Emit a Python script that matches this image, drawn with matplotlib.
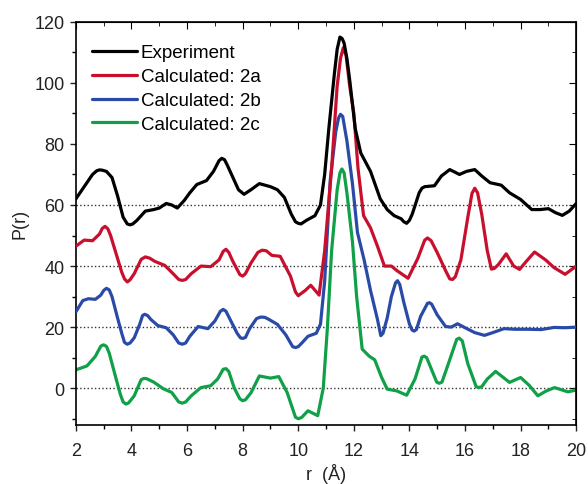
import matplotlib.pyplot as plt

plt.rcParams['font.family'] = ['Liberation Sans', 'DejaVu Sans']

# digitised P(r) curves, r in Angstrom
r_exp = [2.0, 2.3, 2.6, 2.75, 2.85, 2.95, 3.1, 3.3, 3.5, 3.7, 3.85, 3.95, 4.05, 4.2, 4.5,
         4.8, 5.0, 5.25, 5.45, 5.65, 5.9, 6.1, 6.35, 6.7, 6.95, 7.15, 7.25, 7.35, 7.45,
         7.6, 7.85, 8.05, 8.3, 8.6, 9.0, 9.25, 9.5, 9.75, 9.9, 10.0, 10.1, 10.3, 10.6,
         10.8, 10.95, 11.1, 11.3, 11.4, 11.5, 11.58, 11.65, 11.75, 11.85, 12.05, 12.25,
         12.6, 12.95, 13.2, 13.45, 13.7, 13.8, 13.9, 14.0, 14.1, 14.35, 14.45, 14.55,
         14.9, 15.15, 15.45, 15.8, 16.05, 16.35, 16.6, 16.9, 17.3, 17.6, 18.0, 18.4,
         18.7, 19.0, 19.25, 19.5, 19.75, 20.0]
p_exp = [62, 66, 70, 71.2, 71.5, 71.4, 71, 69, 63, 56, 53.8, 53.5, 53.8, 55, 58,
         58.5, 59, 60.5, 60, 59, 61.5, 64, 66.7, 68, 71, 74.5, 75.3, 74.8, 73,
         70, 65, 63.5, 65, 67, 66, 65, 62.5, 57, 54.5, 54, 53.8, 55, 56.5,
         60, 70, 85, 103, 111, 115, 114.5, 113, 108, 101, 85, 77,
         71, 62, 58.5, 56.5, 55.5, 54.5, 54, 55, 57, 64, 65.5, 66,
         66.3, 69.5, 71.6, 70, 71, 71.6, 69.5, 67.3, 66.5, 64, 61.8, 58.5,
         58.5, 58.8, 57.5, 56.6, 58, 60.5]

r_2a = [2.0, 2.3, 2.6, 2.85, 2.95, 3.05, 3.15, 3.25, 3.45, 3.65, 3.75, 3.85, 3.95, 4.1,
        4.35, 4.5, 4.65, 4.85, 5.2, 5.5, 5.7, 5.83, 5.95, 6.15, 6.5, 6.85, 7.15, 7.3,
        7.4, 7.5, 7.65, 7.9, 8.0, 8.1, 8.3, 8.55, 8.7, 8.85, 9.05, 9.35, 9.72, 9.9,
        10.0, 10.25, 10.45, 10.75, 10.95, 11.2, 11.4, 11.52, 11.62, 11.72, 11.85, 12.0,
        12.15, 12.35, 12.6, 12.85, 13.1, 13.35, 13.55, 13.95, 14.3, 14.55, 14.65, 14.78,
        15.0, 15.3, 15.45, 15.55, 15.65, 15.85, 16.1, 16.25, 16.35, 16.45, 16.6, 16.8,
        16.95, 17.05, 17.2, 17.48, 17.75, 17.96, 18.2, 18.5, 18.9, 19.2, 19.6, 20.0]
p_2a = [46.5, 48.5, 48.3, 50.5, 52.3, 53, 52.2, 50, 44, 38, 35.8, 34.8, 35.5, 37.5,
        42.2, 43, 42.6, 41.5, 40.2, 37.5, 35.6, 35.3, 35.6, 37.5, 40, 39.8, 42, 44.8,
        45.5, 44.5, 41.5, 37.2, 36.7, 37.5, 41, 44.5, 45.2, 45, 43.5, 43.2, 36.7, 31.5,
        30.3, 32, 33.7, 30.5, 45, 72, 99, 108, 111.5, 109, 99, 90,
        72, 56.5, 52.5, 46.5, 40, 40, 38.5, 36, 42.5, 48.5, 49.2, 48.3,
        44.4, 38.5, 35.8, 35.6, 36.5, 42, 56, 63.8, 65.5, 64, 57, 45,
        39, 39.2, 40.5, 44, 40, 38.9, 41.5, 44.6, 42, 39.5, 37.3, 40]

r_2b = [2.0, 2.25, 2.45, 2.7, 2.9, 3.0, 3.1, 3.2, 3.3, 3.5, 3.65, 3.75, 3.85, 3.95,
        4.1, 4.3, 4.4, 4.48, 4.58, 4.7, 4.95, 5.25, 5.5, 5.7, 5.83, 5.95, 6.1, 6.4,
        6.75, 7.0, 7.2, 7.3, 7.4, 7.55, 7.8, 7.92, 8.0, 8.1, 8.25, 8.5, 8.65, 8.8,
        8.95, 9.25, 9.55, 9.8, 9.9, 10.0, 10.15, 10.35, 10.65, 10.8, 10.95, 11.15,
        11.35, 11.45, 11.52, 11.6, 11.75, 11.95, 12.13, 12.37, 12.6, 12.85, 12.97, 13.05,
        13.2, 13.35, 13.5, 13.57, 13.65, 13.8, 14.0, 14.1, 14.17, 14.25, 14.4, 14.65,
        14.72, 14.8, 15.0, 15.3, 15.5, 15.73, 16.0, 16.35, 16.7, 17.0, 17.4, 17.8,
        18.26, 18.74, 19.2, 19.6, 20.0]
p_2b = [25, 28.7, 29.3, 29.1, 30.5, 32, 32.7, 32.2, 30, 23, 18, 15, 14.4, 14.8,
        16.5, 21, 23.8, 24.2, 23.8, 22.5, 20.5, 19.8, 17.5, 14.8, 14.4, 14.8, 17, 20.2,
        19.5, 22, 25.2, 25.8, 25.2, 22.5, 18, 16.5, 16.3, 16.6, 19.5, 22.8, 23.3, 23.2,
        22.5, 20.9, 17.5, 13.6, 13.3, 13.6, 15, 17, 18, 21, 35, 68,
        84, 88.5, 89.7, 89, 81, 67, 51, 42, 32, 22.5, 17.2, 18,
        23, 30, 34.5, 35.2, 34, 28, 21, 19, 18.7, 19.2, 23.5, 27.8,
        28, 27.5, 24, 20.2, 20, 21.1, 19.8, 18.2, 17.3, 18.2, 19.5, 19.3,
        19.3, 19.2, 19.9, 19.8, 20]

r_2c = [2.0, 2.4, 2.7, 2.9, 3.0, 3.1, 3.2, 3.45, 3.6, 3.7, 3.8, 3.9, 4.1, 4.35,
        4.45, 4.55, 4.8, 5.15, 5.45, 5.7, 5.83, 5.95, 6.15, 6.5, 6.85, 7.1, 7.3, 7.4,
        7.5, 7.7, 7.9, 8.0, 8.1, 8.3, 8.6, 9.0, 9.3, 9.6, 9.9, 10.0, 10.12, 10.35,
        10.7, 10.9, 11.05, 11.2, 11.4, 11.5, 11.57, 11.65, 11.75, 11.95, 12.1, 12.3,
        12.55, 12.75, 13.0, 13.2, 13.55, 13.9, 14.2, 14.45, 14.53, 14.62, 14.8, 14.98,
        15.07, 15.17, 15.4, 15.7, 15.79, 15.9, 16.1, 16.4, 16.5, 16.6, 16.8, 17.1,
        17.6, 18.0, 18.3, 18.62, 18.9, 19.22, 19.7, 20.0]
p_2c = [6, 7.3, 10.4, 13.8, 14.2, 13.7, 11.5, 3, -2, -4.5, -5.2, -4.8, -2.5, 2.8,
        3.2, 3.1, 2, -0.2, -1.4, -4.5, -4.9, -4.5, -2.5, 0.2, 0.8, 3, 6.2, 6.4,
        5.5, 0, -3.5, -4.1, -3.8, -1.5, 4, 3.3, 3.8, -1.4, -9.5, -10, -9.6, -7.4,
        -9, 0, 20, 45, 65, 70.5, 71.8, 70.5, 64, 48, 30, 12.8,
        10.5, 9.3, 3.5, -0.3, -0.9, -2.3, 3, 10.2, 10.5, 10, 6, 2,
        1.6, 2, 8, 16, 16.4, 15.5, 8, 0.5, 0.2, 0.5, 3, 5.5,
        1.9, 3.5, 1, -2.5, -1, 0.2, -1.2, -0.6]

baselines = [0, 20, 40, 60]

fig = plt.figure(figsize=(5.88, 4.85), dpi=100)
ax = fig.add_axes([0.129, 0.122, 0.851, 0.831])

for b in baselines:
    ax.axhline(b, color='#333333', linestyle=':', linewidth=1.0, zorder=1)

style = dict(lw=2.3, solid_joinstyle='round', solid_capstyle='round')
ax.plot(r_exp, p_exp, color='black', label='Experiment', zorder=5, **style)
ax.plot(r_2a, p_2a, color='#c8102e', label='Calculated: 2a', zorder=4, **style)
ax.plot(r_2b, p_2b, color='#2a4aa8', label='Calculated: 2b', zorder=3, **style)
ax.plot(r_2c, p_2c, color='#10a048', label='Calculated: 2c', zorder=2, **style)

ax.set_xlim(2, 20)
ax.set_ylim(-12, 120)
ax.set_xticks(range(2, 21, 2))
ax.set_yticks(range(0, 121, 20))
ax.set_xticks(range(3, 20, 2), minor=True)
ax.set_yticks(range(-10, 120, 20), minor=True)
ax.tick_params(axis='both', which='major', direction='out', length=4.5, width=1,
               labelsize=13, colors='#222222')
ax.tick_params(axis='x', which='major', pad=8)
ax.tick_params(axis='both', which='minor', direction='out', length=3, width=1)
sec_x = ax.secondary_xaxis('top')
sec_x.set_xticks(range(2, 21, 2))
sec_x.set_xticks(range(3, 20, 2), minor=True)
sec_x.tick_params(which='both', direction='in', labeltop=False)
sec_x.tick_params(which='major', length=5)
sec_x.tick_params(which='minor', length=3)
sec_y = ax.secondary_yaxis('right')
sec_y.set_yticks(range(0, 121, 20))
sec_y.set_yticks(range(-10, 120, 20), minor=True)
sec_y.tick_params(which='both', direction='in', labelright=False)
sec_y.tick_params(which='major', length=5)
sec_y.tick_params(which='minor', length=3)
for s in ax.spines.values():
    s.set_linewidth(1.2)

ax.set_xlabel('r  (Å)', fontsize=13, color='#222222', labelpad=3)
ax.set_ylabel('P(r)', fontsize=13, color='#222222', labelpad=4)

ax.legend(loc='upper left', frameon=False, fontsize=13.5, handlelength=2.4,
          handletextpad=0.2, labelspacing=0.36, borderaxespad=0,
          bbox_to_anchor=(0.017, 0.963))

fig.savefig('out.png', dpi=100)
